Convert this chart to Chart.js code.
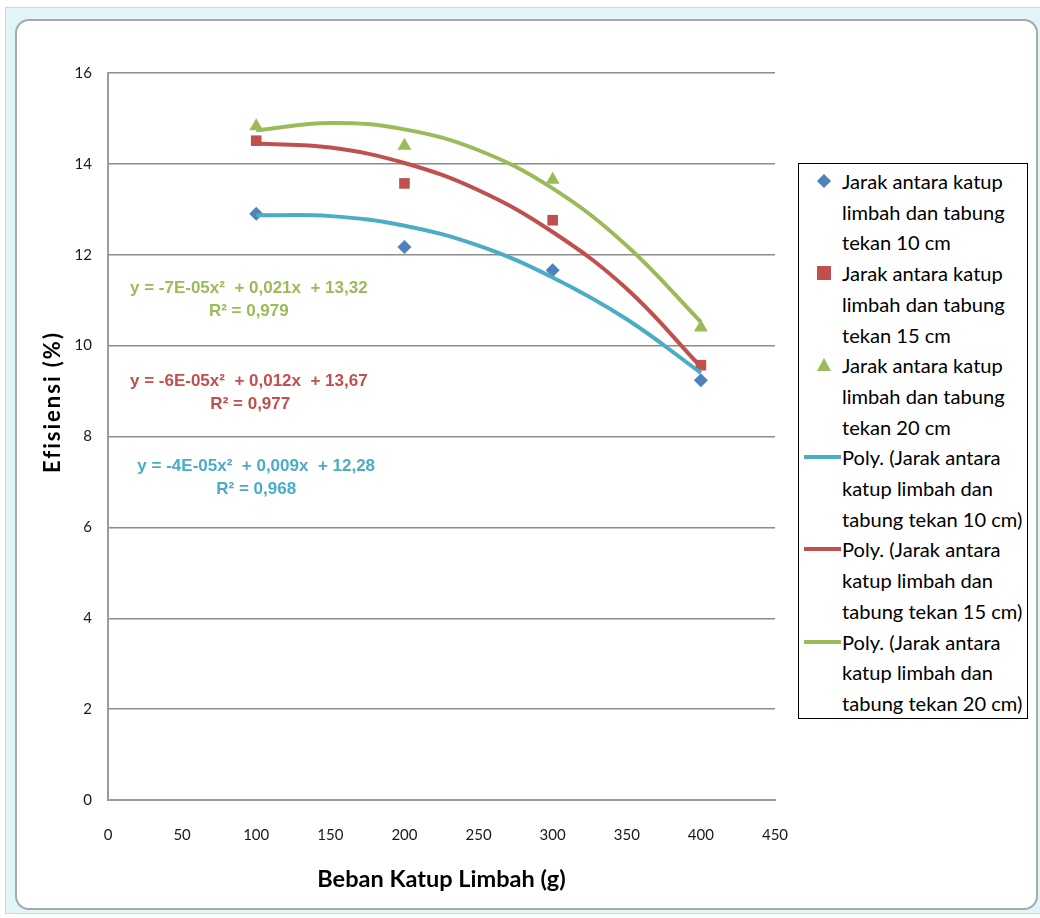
<!DOCTYPE html>
<html>
<head>
<meta charset="utf-8">
<script src="https://cdn.jsdelivr.net/npm/chart.js@4.4.1/dist/chart.umd.min.js"></script>
<style>
  html, body { margin: 0; padding: 0; background: #fff; }
  #wrap { position: relative; width: 1040px; height: 918px; overflow: hidden; background: #fff; }
  #outer { position: absolute; left: 5px; top: 7px; width: 1040px; height: 907px; background: #e2f4f8; border: 1px solid #c2dde4; box-sizing: border-box; }
  #inner { position: absolute; left: 15px; top: 19px; width: 1023px; height: 891px; background: #fff; border: 2px solid #a8a8a8; border-radius: 14px; box-sizing: border-box; }
  #chart { position: absolute; left: 0; top: 0; }
  #legend { position: absolute; left: 798px; top: 163px; width: 230px; height: 556px; border: 1.5px solid #000; box-sizing: border-box; background: #fff;
            font-family: Lato, sans-serif; font-size: 20.1px; line-height: 30.7px; color: #000; padding-top: 2px; }
  .item { position: relative; padding-left: 43px; white-space: nowrap; }
  .sw { position: absolute; }
</style>
</head>
<body>
<div id="wrap">
  <div id="outer"></div>
  <div id="inner"></div>
  <canvas id="chart" width="1040" height="918"></canvas>
  <div id="legend"></div>
</div>
<script>
// beban katup limbah (g)
const xLoads = [100, 200, 300, 400]
// efisiensi (%) per jarak katup - tabung
const eff10 = [12.90, 12.17, 11.66, 9.24]
const eff15 = [14.51, 13.57, 12.76, 9.57]
const eff20 = [14.83, 14.40, 13.65, 10.40]

// trendline poly orde 2
const trendX = [100, 150, 200, 250, 300, 350, 400]
const trend10 = [12.87, 12.85, 12.64, 12.20, 11.50, 10.58, 9.40]
const trend15 = [14.45, 14.36, 14.02, 13.42, 12.50, 11.25, 9.53]
const trend20 = [14.74, 14.90, 14.76, 14.30, 13.46, 12.20, 10.52]

const xTicks = [0, 50, 100, 150, 200, 250, 300, 350, 400, 450]
const yTicks = [0, 2, 4, 6, 8, 10, 12, 14, 16]

const seriesNames = [
    ["Jarak antara katup", "limbah dan tabung", "tekan 10 cm"],
    ["Jarak antara katup", "limbah dan tabung", "tekan 15 cm"],
    ["Jarak antara katup", "limbah dan tabung", "tekan 20 cm"],
    ["Poly. (Jarak antara", "katup limbah dan", "tabung tekan 10 cm)"],
    ["Poly. (Jarak antara", "katup limbah dan", "tabung tekan 15 cm)"],
    ["Poly. (Jarak antara", "katup limbah dan", "tabung tekan 20 cm)"],
]

const equations = [
    { text: "y = -7E-05x²  + 0,021x  + 13,32", x: 95, y: 11.27, color: "#9bbb59" },
    { text: "R² = 0,979", x: 95, y: 10.76, color: "#9bbb59" },
    { text: "y = -6E-05x²  + 0,012x  + 13,67", x: 95, y: 9.22, color: "#c0504d" },
    { text: "R² = 0,977", x: 96, y: 8.71, color: "#c0504d" },
    { text: "y = -4E-05x²  + 0,009x  + 12,28", x: 100, y: 7.35, color: "#4bacc6" },
    { text: "R² = 0,968", x: 100, y: 6.84, color: "#4bacc6" },
]

const pts = (xs, ys) => xs.map((x, i) => ({ x: x, y: ys[i] }))

const markerSet = (label, data, color, style, r) => ({
    label: label, data: data, showLine: false, order: 2,
    pointStyle: style, pointRadius: r, pointHoverRadius: r,
    backgroundColor: color, borderColor: color, borderWidth: 0
})
const trendSet = (label, data, color) => ({
    label: label, data: data, showLine: true, order: 1, tension: 0.4,
    borderColor: color, borderWidth: 4, pointRadius: 0, pointHoverRadius: 0,
    backgroundColor: color
})

const datasets = [
    markerSet(seriesNames[0].join(" "), pts(xLoads, eff10), "#4f81bd", "rectRot", 7),
    markerSet(seriesNames[1].join(" "), pts(xLoads, eff15), "#c0504d", "rect", 7.5),
    markerSet(seriesNames[2].join(" "), pts(xLoads, eff20), "#9bbb59", "triangle", 8),
    trendSet(seriesNames[3].join(" "), pts(trendX, trend10), "#4bacc6"),
    trendSet(seriesNames[4].join(" "), pts(trendX, trend15), "#c0504d"),
    trendSet(seriesNames[5].join(" "), pts(trendX, trend20), "#9bbb59"),
]

const textPlugin = {
    id: "texts",
    afterDatasetsDraw(chart) {
        const ctx = chart.ctx
        const xs = chart.scales.x, ys = chart.scales.y
        ctx.save()
        ctx.textAlign = "center"
        ctx.textBaseline = "middle"
        ctx.font = "bold 17px 'Liberation Sans Narrow', 'Liberation Sans', sans-serif"
        equations.forEach(e => {
            ctx.fillStyle = e.color
            ctx.fillText(e.text, xs.getPixelForValue(e.x), ys.getPixelForValue(e.y))
        })
        // judul sumbu y
        ctx.translate(53, 402)
        ctx.rotate(-Math.PI / 2)
        ctx.font = "bold 22px Lato, sans-serif"
        ctx.letterSpacing = "2px"
        ctx.fillStyle = "#000"
        ctx.fillText("Efisiensi (%)", 0, 0)
        ctx.restore()
    }
}

const tickFont = { family: "Lato, sans-serif", size: 15 }

new Chart(document.getElementById("chart"), {
    type: "scatter",
    data: { datasets: datasets },
    options: {
        responsive: false,
        animation: false,
        layout: { padding: { left: 0, top: 73, right: 265, bottom: 0 } },
        plugins: { legend: { display: false }, tooltip: { enabled: false } },
        scales: {
            x: {
                type: "linear", min: 0, max: 450,
                afterFit: s => { s.height = 118 },
                afterBuildTicks: s => { s.ticks = xTicks.map(v => ({ value: v })) },
                grid: { display: false, drawTicks: false },
                border: { display: true, color: "#9a9a9a", width: 2 },
                ticks: { font: tickFont, color: "#1a1a1a", padding: 26, maxRotation: 0 },
                title: { display: true, text: "Beban Katup Limbah (g)", color: "#000",
                         font: { family: "Lato, sans-serif", size: 23.5, weight: "bold" }, padding: { top: 0, bottom: 24 } }
            },
            y: {
                type: "linear", min: 0, max: 16,
                afterFit: s => { s.width = 108 },
                afterBuildTicks: s => { s.ticks = yTicks.map(v => ({ value: v })) },
                grid: { color: "#8c8c8c", lineWidth: 1.5, drawTicks: false },
                border: { display: true, color: "#9a9a9a", width: 2 },
                ticks: { font: tickFont, color: "#1a1a1a", padding: 16 }
            }
        }
    },
    plugins: [textPlugin]
})

// legenda
const legend = document.getElementById("legend")
datasets.forEach((d, i) => {
    const item = document.createElement("div")
    item.className = "item"
    item.innerHTML = seriesNames[i].join("<br>")
    const sw = document.createElement("div")
    sw.className = "sw"
    const c = d.borderColor
    if (d.showLine) {
        Object.assign(sw.style, { left: "5px", top: "13px", width: "37px", height: "4px", background: c })
    } else if (d.pointStyle === "rectRot") {
        Object.assign(sw.style, { left: "20px", top: "10px", width: "10px", height: "10px", background: c, transform: "rotate(45deg)" })
    } else if (d.pointStyle === "rect") {
        Object.assign(sw.style, { left: "18px", top: "8px", width: "14px", height: "14px", background: c })
    } else {
        Object.assign(sw.style, { left: "18px", top: "8px", width: "0", height: "0",
            borderLeft: "7px solid transparent", borderRight: "7px solid transparent", borderBottom: "13px solid " + c })
    }
    item.appendChild(sw)
    legend.appendChild(item)
})
</script>
</body>
</html>
